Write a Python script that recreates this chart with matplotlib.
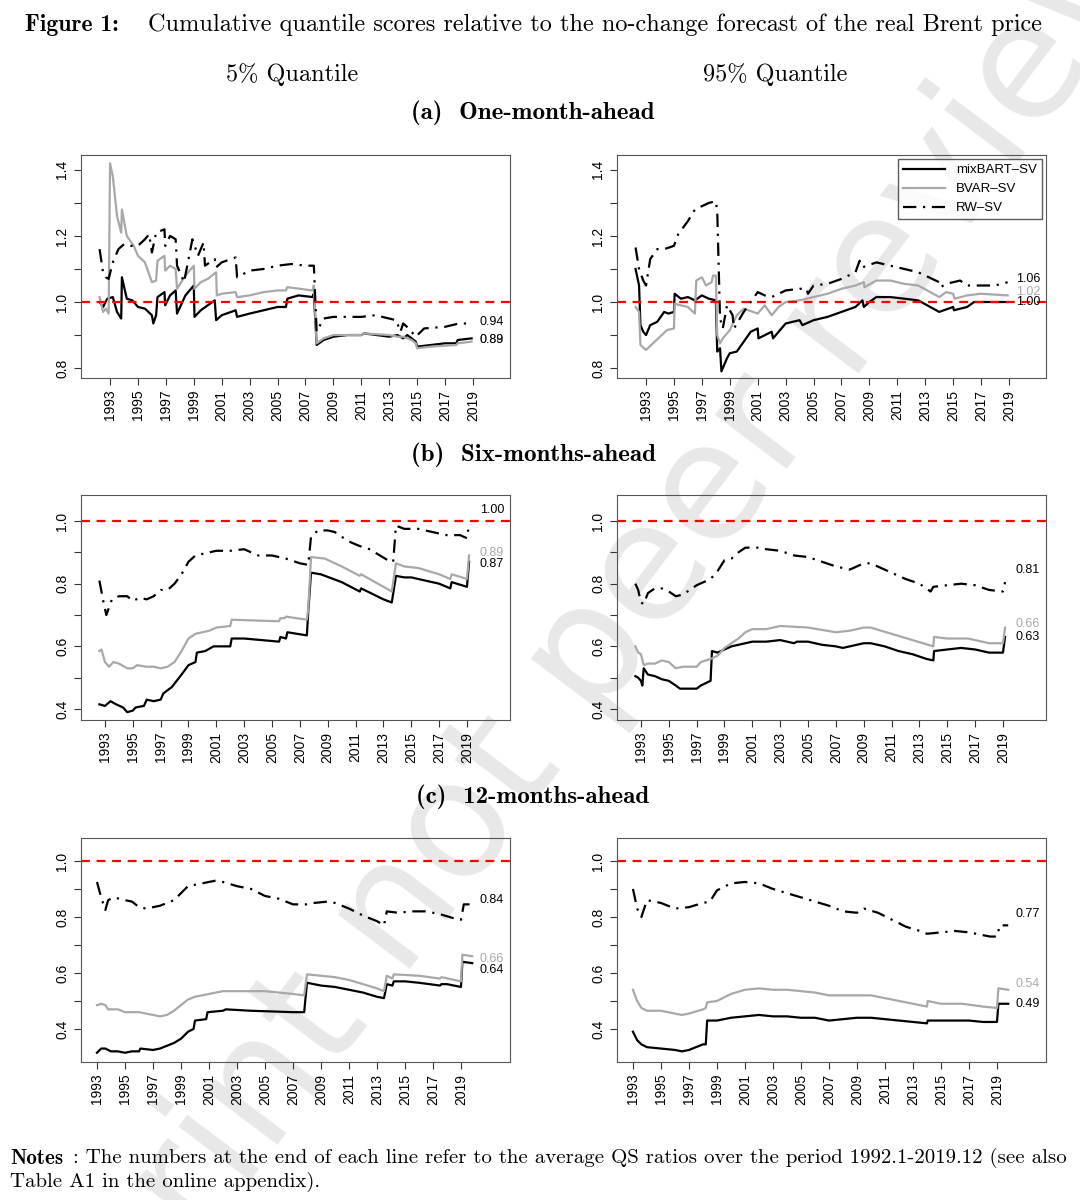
import numpy as np
import matplotlib
matplotlib.use('agg')
import matplotlib.pyplot as plt
from matplotlib.transforms import blended_transform_factory

# ---- data: (year, value) anchors ----
# row a, 5% quantile
a5_mix = [(1992.25,1.0),(1992.5,0.985),(1992.8,1.01),(1993.2,1.015),(1993.5,0.97),(1993.8,0.95),(1993.85,1.075),(1994.2,1.01),(1994.6,1.005),(1995,0.985),(1995.5,0.98),(1996,0.96),(1996.1,0.935),(1996.3,0.96),(1996.4,1.015),(1996.9,1.03),(1996.95,0.99),(1997.3,1.02),(1997.7,1.035),(1997.8,0.965),(1998.4,1.02),(1999,1.05),(1999.05,0.955),(1999.5,0.975),(2000,0.99),(2000.5,1.005),(2000.6,0.945),(2001,0.96),(2002,0.975),(2002.1,0.955),(2003,0.965),(2004,0.975),(2005,0.985),(2005.6,0.985),(2005.7,1.01),(2006.5,1.02),(2007.5,1.015),(2007.6,1.025),(2007.8,0.87),(2008.3,0.885),(2009,0.895),(2010,0.9),(2011,0.9),(2011.2,0.905),(2013,0.895),(2013.6,0.9),(2014,0.89),(2014.3,0.9),(2014.6,0.89),(2014.9,0.88),(2015,0.865),(2016,0.87),(2017,0.875),(2017.8,0.875),(2017.9,0.885),(2018.9,0.89)]
a5_bvar = [(1992.25,1.015),(1992.5,0.97),(1992.7,0.98),(1992.9,0.965),(1993.0,1.42),(1993.2,1.38),(1993.5,1.26),(1993.8,1.21),(1993.85,1.28),(1994.2,1.2),(1994.7,1.17),(1995,1.14),(1995.5,1.12),(1996,1.06),(1996.3,1.065),(1996.4,1.125),(1996.9,1.14),(1996.95,1.095),(1997.3,1.11),(1997.7,1.1),(1997.8,1.04),(1998.4,1.08),(1999,1.11),(1999.05,1.04),(1999.5,1.06),(2000,1.07),(2000.6,1.09),(2000.65,1.02),(2001,1.025),(2002,1.03),(2002.1,1.015),(2003,1.02),(2004,1.03),(2005,1.035),(2005.6,1.035),(2005.7,1.045),(2007.5,1.035),(2007.6,1.05),(2007.8,0.875),(2008.3,0.89),(2009,0.9),(2011,0.9),(2011.2,0.905),(2013,0.9),(2013.6,0.895),(2014,0.895),(2014.6,0.885),(2014.9,0.875),(2015,0.86),(2016,0.865),(2017.8,0.87),(2017.9,0.875),(2018.9,0.88)]
a5_rw = [(1992.25,1.16),(1992.5,1.09),(1992.7,1.075),(1992.9,1.07),(1993.2,1.12),(1993.6,1.16),(1994,1.175),(1994.5,1.17),(1995,1.17),(1995.5,1.19),(1995.8,1.205),(1996,1.15),(1996.3,1.21),(1996.9,1.22),(1996.95,1.17),(1997.3,1.2),(1997.7,1.19),(1997.8,1.11),(1998.3,1.06),(1998.9,1.19),(1999.3,1.14),(1999.7,1.18),(1999.8,1.11),(2000.5,1.13),(2000.6,1.105),(2001,1.12),(2002,1.135),(2002.1,1.075),(2003,1.095),(2004,1.1),(2005,1.11),(2006,1.115),(2007,1.11),(2007.6,1.11),(2007.8,0.91),(2008.3,0.95),(2009,0.955),(2011,0.955),(2012,0.96),(2013,0.95),(2013.5,0.945),(2013.8,0.91),(2014,0.935),(2014.4,0.92),(2014.9,0.895),(2015.5,0.92),(2017,0.925),(2018,0.935),(2018.9,0.935)]
# row a, 95% quantile
a95_mix = [(1992.25,1.1),(1992.5,1.05),(1992.6,0.93),(1992.8,0.91),(1993,0.9),(1993.3,0.93),(1993.8,0.94),(1994.3,0.97),(1994.6,0.965),(1995,0.97),(1995.05,1.025),(1995.5,1.01),(1996,1.015),(1996.5,1.005),(1997,1.02),(1997.5,1.01),(1998,1.005),(1998.1,0.85),(1998.3,0.86),(1998.4,0.79),(1998.8,0.83),(1999,0.845),(1999.5,0.85),(2000,0.88),(2000.5,0.91),(2001,0.92),(2001.05,0.89),(2002,0.91),(2002.1,0.89),(2003,0.935),(2004,0.945),(2004.2,0.93),(2005,0.945),(2006,0.955),(2007,0.97),(2008,0.985),(2008.5,1.005),(2008.6,0.985),(2009,1.0),(2009.5,1.015),(2010.5,1.015),(2011.5,1.01),(2012.5,1.005),(2014,0.97),(2015,0.985),(2015.05,0.975),(2016,0.985),(2016.5,1.0),(2018,1.0),(2018.9,1.0)]
a95_bvar = [(1992.25,0.985),(1992.5,0.97),(1992.6,0.87),(1993,0.855),(1993.5,0.875),(1994,0.895),(1994.5,0.915),(1995,0.92),(1995.05,0.995),(1995.5,0.99),(1996,0.985),(1996.5,0.965),(1996.6,1.065),(1997,1.075),(1997.3,1.05),(1997.7,1.06),(1997.8,1.08),(1998,1.08),(1998.1,0.9),(1998.3,0.875),(1998.5,0.89),(1999,0.915),(1999.5,0.96),(2000,0.98),(2001,0.965),(2001.5,0.99),(2002,0.96),(2002.5,0.985),(2003,1.0),(2004,1.005),(2005,1.015),(2006,1.025),(2007,1.04),(2008,1.05),(2008.6,1.06),(2008.65,1.045),(2009.5,1.065),(2010.5,1.065),(2011.5,1.055),(2012.5,1.05),(2014,1.015),(2014.5,1.03),(2015,1.025),(2015.1,1.01),(2016,1.02),(2017,1.025),(2018.9,1.02)]
a95_rw = [(1992.25,1.165),(1992.5,1.1),(1992.8,1.065),(1993,1.05),(1993.3,1.13),(1993.8,1.16),(1994.3,1.16),(1995,1.17),(1995.3,1.205),(1996,1.245),(1996.5,1.28),(1997,1.29),(1997.5,1.3),(1998,1.305),(1998.1,1.275),(1998.3,0.95),(1998.5,0.92),(1998.8,0.99),(1999.2,0.96),(1999.3,0.92),(2000,0.97),(2000.5,1.0),(2001,1.03),(2001.5,1.02),(2002,1.015),(2003,1.035),(2004,1.04),(2004.5,1.04),(2004.6,1.025),(2005,1.05),(2006,1.055),(2007,1.07),(2008,1.09),(2008.3,1.125),(2008.5,1.105),(2009.5,1.12),(2010.5,1.11),(2011.5,1.1),(2012.5,1.09),(2014,1.06),(2014.1,1.045),(2014.5,1.055),(2015.5,1.065),(2016,1.05),(2017,1.05),(2018,1.05),(2018.9,1.06)]
# row b, 5% quantile
b5_mix = [(1992.6,0.415),(1993,0.41),(1993.4,0.425),(1993.8,0.415),(1994.3,0.405),(1994.6,0.39),(1995,0.395),(1995.2,0.405),(1995.8,0.41),(1996,0.43),(1996.5,0.425),(1997,0.43),(1997.2,0.45),(1997.8,0.47),(1998.5,0.51),(1999,0.54),(1999.5,0.55),(1999.6,0.58),(2000.2,0.585),(2000.8,0.6),(2002,0.6),(2002.1,0.625),(2003,0.625),(2005.5,0.615),(2005.6,0.63),(2006,0.625),(2006.1,0.645),(2007.5,0.635),(2007.6,0.71),(2007.8,0.835),(2008.5,0.83),(2010,0.805),(2011.3,0.775),(2011.4,0.785),(2013,0.75),(2013.6,0.74),(2013.9,0.825),(2014.5,0.82),(2015,0.82),(2017,0.8),(2017.8,0.785),(2017.9,0.805),(2019,0.79),(2019.15,0.87)]
b5_bvar = [(1992.6,0.585),(1992.75,0.59),(1993,0.55),(1993.3,0.535),(1993.6,0.55),(1994,0.545),(1994.6,0.53),(1995,0.53),(1995.3,0.54),(1996,0.535),(1996.5,0.535),(1997,0.53),(1997.5,0.535),(1998,0.55),(1998.5,0.585),(1999,0.625),(1999.5,0.64),(2000.5,0.65),(2001,0.66),(2002,0.665),(2002.1,0.685),(2005.5,0.68),(2005.6,0.69),(2005.9,0.69),(2006,0.695),(2007.5,0.685),(2007.6,0.72),(2007.8,0.885),(2008.8,0.88),(2010,0.855),(2011.3,0.825),(2011.4,0.83),(2013,0.79),(2013.6,0.775),(2013.9,0.865),(2014.5,0.855),(2015.5,0.85),(2017,0.83),(2017.8,0.815),(2017.9,0.83),(2019,0.815),(2019.15,0.89)]
b5_rw = [(1992.6,0.81),(1992.9,0.74),(1993.1,0.7),(1993.5,0.75),(1994,0.76),(1994.6,0.76),(1995,0.745),(1995.5,0.755),(1996,0.75),(1996.5,0.76),(1997,0.78),(1997.5,0.78),(1998,0.8),(1998.5,0.83),(1999,0.87),(1999.5,0.89),(2000.5,0.9),(2001,0.905),(2002,0.905),(2003,0.91),(2004,0.89),(2005,0.89),(2006,0.88),(2007,0.865),(2007.6,0.86),(2007.8,0.95),(2008.3,0.97),(2009,0.97),(2009.5,0.965),(2010.5,0.935),(2011.3,0.92),(2012,0.91),(2013.5,0.87),(2013.7,0.87),(2013.9,0.985),(2014.5,0.975),(2015.5,0.975),(2016.5,0.965),(2017.5,0.955),(2018.5,0.955),(2019,0.945),(2019.15,0.99)]
# row b, 95% quantile
b95_mix = [(1992.6,0.505),(1992.8,0.5),(1993,0.49),(1993.1,0.475),(1993.2,0.53),(1993.5,0.51),(1994,0.505),(1994.5,0.495),(1995,0.49),(1995.5,0.475),(1995.8,0.465),(1996.5,0.465),(1997,0.465),(1997.3,0.475),(1998,0.49),(1998.1,0.585),(1998.5,0.58),(1999,0.59),(1999.5,0.6),(2000,0.605),(2000.5,0.61),(2001,0.615),(2002,0.615),(2003,0.62),(2004,0.61),(2004.2,0.615),(2005,0.615),(2006,0.605),(2007,0.6),(2007.5,0.595),(2008,0.6),(2009,0.61),(2009.5,0.61),(2010.5,0.6),(2011.5,0.585),(2012.5,0.575),(2013.5,0.56),(2014,0.555),(2014.05,0.585),(2015,0.59),(2016,0.595),(2017,0.59),(2018,0.58),(2019,0.58),(2019.15,0.63)]
b95_bvar = [(1992.6,0.6),(1992.8,0.58),(1993,0.575),(1993.2,0.54),(1993.5,0.545),(1994,0.545),(1994.5,0.555),(1995,0.55),(1995.5,0.53),(1996,0.535),(1997,0.535),(1997.3,0.55),(1998,0.56),(1998.5,0.57),(1999,0.595),(2000,0.625),(2000.5,0.645),(2001,0.655),(2002,0.655),(2003,0.665),(2005,0.66),(2007,0.645),(2008,0.65),(2009,0.66),(2009.5,0.66),(2011,0.64),(2012.5,0.62),(2014,0.6),(2014.05,0.63),(2015,0.625),(2016.5,0.625),(2018,0.61),(2019,0.61),(2019.15,0.66)]
b95_rw = [(1992.6,0.8),(1992.8,0.78),(1993,0.74),(1993.2,0.735),(1993.5,0.77),(1994,0.785),(1994.5,0.785),(1995,0.775),(1995.5,0.76),(1996,0.765),(1997,0.795),(1998,0.815),(1998.5,0.84),(1999,0.875),(1999.5,0.88),(2000,0.9),(2000.5,0.915),(2001,0.915),(2001.5,0.915),(2002,0.91),(2003,0.905),(2004,0.89),(2005,0.885),(2006,0.87),(2007,0.855),(2008,0.845),(2009,0.865),(2009.5,0.865),(2011,0.835),(2012,0.815),(2013,0.8),(2013.8,0.775),(2014,0.79),(2015,0.795),(2016,0.8),(2017,0.795),(2018,0.78),(2019,0.775),(2019.15,0.805)]
# row c, 5% quantile
c5_mix = [(1993,0.315),(1993.3,0.33),(1993.6,0.33),(1994,0.32),(1994.5,0.32),(1995,0.315),(1995.5,0.32),(1996,0.32),(1996.1,0.33),(1997,0.325),(1997.5,0.33),(1998,0.34),(1998.5,0.35),(1999,0.365),(1999.5,0.39),(1999.9,0.4),(2000,0.43),(2000.8,0.435),(2000.9,0.46),(2002,0.465),(2002.2,0.47),(2004,0.465),(2007,0.46),(2007.8,0.46),(2008,0.565),(2009,0.555),(2010,0.55),(2011,0.54),(2012,0.53),(2013,0.515),(2013.5,0.51),(2013.7,0.56),(2014.1,0.555),(2014.2,0.57),(2015,0.57),(2016,0.565),(2017.5,0.555),(2017.6,0.56),(2018,0.56),(2019,0.55),(2019.1,0.64),(2019.8,0.635)]
c5_bvar = [(1993,0.485),(1993.3,0.49),(1993.6,0.485),(1993.8,0.47),(1994.5,0.47),(1995,0.46),(1996,0.46),(1997,0.45),(1997.5,0.445),(1998,0.45),(1998.5,0.465),(1999,0.485),(1999.5,0.505),(2000,0.515),(2001,0.525),(2002,0.535),(2003,0.535),(2004,0.535),(2005,0.535),(2006,0.53),(2007,0.525),(2007.8,0.52),(2008,0.595),(2009,0.59),(2010,0.585),(2011,0.575),(2012,0.56),(2013,0.545),(2013.5,0.535),(2013.7,0.59),(2014.1,0.58),(2014.2,0.595),(2016,0.59),(2017.5,0.58),(2017.6,0.585),(2019,0.57),(2019.1,0.665),(2019.8,0.66)]
c5_rw = [(1993,0.925),(1993.3,0.87),(1993.6,0.825),(1993.8,0.86),(1994.2,0.87),(1995,0.86),(1995.5,0.855),(1996,0.835),(1996.5,0.83),(1997,0.835),(1997.5,0.84),(1998,0.85),(1998.5,0.86),(1999,0.885),(1999.5,0.91),(2000,0.915),(2001,0.925),(2001.5,0.93),(2002,0.925),(2003,0.91),(2004,0.9),(2005,0.875),(2006,0.865),(2007,0.845),(2008,0.845),(2008.5,0.85),(2009.5,0.855),(2010,0.85),(2011,0.83),(2012,0.805),(2013,0.785),(2013.5,0.77),(2013.7,0.82),(2014.5,0.815),(2015.5,0.82),(2016.5,0.82),(2017.5,0.81),(2018.5,0.795),(2019,0.79),(2019.2,0.845),(2019.8,0.845)]
# row c, 95% quantile
c95_mix = [(1993,0.39),(1993.3,0.36),(1993.6,0.345),(1994,0.335),(1995,0.33),(1996,0.325),(1996.5,0.32),(1997,0.325),(1997.5,0.335),(1998,0.345),(1998.2,0.345),(1998.3,0.43),(1999,0.43),(2000,0.44),(2001,0.445),(2002,0.45),(2003,0.445),(2004,0.445),(2005,0.44),(2006,0.44),(2007,0.43),(2008,0.435),(2009,0.44),(2010,0.44),(2011,0.435),(2012,0.43),(2013,0.425),(2014,0.42),(2014.05,0.43),(2015,0.43),(2016,0.43),(2017,0.43),(2018,0.425),(2019,0.425),(2019.1,0.49),(2019.8,0.49)]
c95_bvar = [(1993,0.54),(1993.3,0.5),(1993.6,0.475),(1994,0.465),(1995,0.465),(1996,0.455),(1996.5,0.45),(1997,0.455),(1998,0.47),(1998.2,0.475),(1998.3,0.495),(1999,0.5),(2000,0.525),(2001,0.54),(2002,0.545),(2003,0.54),(2004,0.54),(2005,0.535),(2006,0.53),(2007,0.52),(2008,0.52),(2009,0.52),(2010,0.52),(2011,0.51),(2012,0.5),(2013,0.49),(2014,0.48),(2014.05,0.5),(2015,0.49),(2016.5,0.49),(2018,0.48),(2019,0.475),(2019.1,0.545),(2019.8,0.54)]
c95_rw = [(1993,0.9),(1993.3,0.83),(1993.6,0.8),(1994,0.86),(1995,0.85),(1996,0.83),(1997,0.835),(1998,0.85),(1998.5,0.855),(1999,0.895),(2000,0.92),(2001,0.925),(2002,0.92),(2003,0.9),(2004,0.885),(2005,0.87),(2006,0.855),(2007,0.84),(2008,0.82),(2009,0.815),(2009.5,0.83),(2010.5,0.815),(2011.5,0.79),(2012.5,0.765),(2013.5,0.75),(2014,0.74),(2015,0.745),(2016,0.75),(2017,0.745),(2018.5,0.73),(2019,0.73),(2019.2,0.77),(2019.8,0.77)]

# end labels: (text, y position, colour)
labels = {
    'a5': [('0.94', 0.94, 'k'), ('0.88', 0.885, 'gray'), ('0.89', 0.885, 'k')],
    'a95': [('1.06', 1.07, 'k'), ('1.02', 1.03, 'darkgray'), ('1.00', 1.0, 'k')],
    'b5': [('1.00', 1.035, 'k'), ('0.89', 0.897, 'darkgray'), ('0.87', 0.862, 'k')],
    'b95': [('0.81', 0.845, 'k'), ('0.66', 0.67, 'darkgray'), ('0.63', 0.63, 'k')],
    'c5': [('0.84', 0.86, 'k'), ('0.66', 0.65, 'darkgray'), ('0.64', 0.612, 'k')],
    'c95': [('0.77', 0.81, 'k'), ('0.54', 0.56, 'darkgray'), ('0.49', 0.49, 'k')],
}

series = {
    'a5': (a5_mix, a5_bvar, a5_rw), 'a95': (a95_mix, a95_bvar, a95_rw),
    'b5': (b5_mix, b5_bvar, b5_rw), 'b95': (b95_mix, b95_bvar, b95_rw),
    'c5': (c5_mix, c5_bvar, c5_rw), 'c95': (c95_mix, c95_bvar, c95_rw),
}

# per row: x limits, y limits, y ticks, y tick labels, axes top/bottom in px
rows = {
    'a': ((1990.92, 2021.65), (0.77, 1.445), [0.8, 0.9, 1.0, 1.1, 1.2, 1.3, 1.4],
          ['0.8', '', '1.0', '', '1.2', '', '1.4'], 155, 378),
    'b': ((1991.28, 2022.09), (0.365, 1.083), [0.4, 0.5, 0.6, 0.7, 0.8, 0.9, 1.0],
          ['0.4', '', '0.6', '', '0.8', '', '1.0'], 495, 720),
    'c': ((1991.86, 2022.5), (0.282, 1.082), [0.4, 0.5, 0.6, 0.7, 0.8, 0.9, 1.0],
          ['0.4', '', '0.6', '', '0.8', '', '1.0'], 838, 1062),
}

W, H = 1080, 1200
serif = ['cmr10', 'DejaVu Serif']
bold = ['cmb10', 'DejaVu Serif']
sans = 'Liberation Sans'
plt.rcParams['axes.unicode_minus'] = False

fig = plt.figure(figsize=(W / 100, H / 100), dpi=100, facecolor='white')

# watermark
fig.text(0.56, 0.47, 'Preprint not peer reviewed', fontsize=118, color='#e8e8e8',
         rotation=53, ha='center', va='center', family='DejaVu Sans', zorder=-5)

for r, (xl, yl, yt, ytl, top, bot) in rows.items():
    for q, left in (('5', 81), ('95', 617)):
        key = r + q
        ax = fig.add_axes([left / W, 1 - bot / H, 429 / W, (bot - top) / H])
        ax.patch.set_alpha(0)
        mix, bvar, rw = series[key]
        ax.plot(*zip(*mix), color='black', lw=1.6, label='mixBART\u2013SV')
        ax.plot(*zip(*bvar), color='#a8a8a8', lw=1.6, label='BVAR\u2013SV')
        ax.plot(*zip(*rw), color='black', lw=1.6, ls=(0, (6, 3, 1, 3)), label='RW\u2013SV')
        ax.axhline(1.0, color='red', lw=1.6, ls=(0, (4, 3)))
        ax.set_xlim(xl)
        ax.set_ylim(yl)
        ax.set_xticks(range(1993, 2020, 2))
        ax.set_xticklabels([str(y) for y in range(1993, 2020, 2)], rotation=90,
                           family=sans, fontsize=10)
        ax.set_yticks(yt)
        ax.set_yticklabels(ytl, rotation=90, va='center', family=sans, fontsize=10)
        ax.tick_params(length=5, color='#333333')
        for s in ax.spines.values():
            s.set_color('#555555')
        tr = blended_transform_factory(ax.transAxes, ax.transData)
        for txt, y, c in labels[key]:
            ax.text(0.93, y, txt, transform=tr, fontsize=9, color=c, va='center',
                    family=sans)
        if key == 'a95':
            leg = ax.legend(loc='upper right', fancybox=False,
                            edgecolor='#333333', borderaxespad=0.3, handlelength=3.2,
                            prop={'family': sans, 'size': 9.5})
            leg.get_frame().set_linewidth(1.0)

fig.text(25 / W, 1 - 25 / H, 'Figure 1:', family=bold, fontsize=17, va='center', ha='left')
fig.text(148 / W, 1 - 25 / H,
         'Cumulative quantile scores relative to the no-change forecast of the real Brent price',
         family=serif, fontsize=17.5, va='center', ha='left')
fig.text(292 / W, 1 - 75 / H, '5% Quantile', family=serif, fontsize=17.5, ha='center', va='center')
fig.text(775 / W, 1 - 75 / H, '95% Quantile', family=serif, fontsize=17.5, ha='center', va='center')
for t, y in (('(a)  One-month-ahead', 113), ('(b)  Six-months-ahead', 455),
             ('(c)  12-months-ahead', 797)):
    fig.text(533 / W, 1 - y / H, t, family=bold, fontsize=18, ha='center', va='center')
fig.text(10 / W, 1 - 1158 / H, 'Notes', family=bold, fontsize=15, va='center')
fig.text(73 / W, 1 - 1158 / H,
         ': The numbers at the end of each line refer to the average QS ratios over the period 1992.1-2019.12 (see also',
         family=serif, fontsize=15, va='center')
fig.text(10 / W, 1 - 1182 / H, 'Table A1 in the online appendix).', family=serif,
         fontsize=15, va='center')

fig.savefig('out.png', dpi=100, facecolor='white')
